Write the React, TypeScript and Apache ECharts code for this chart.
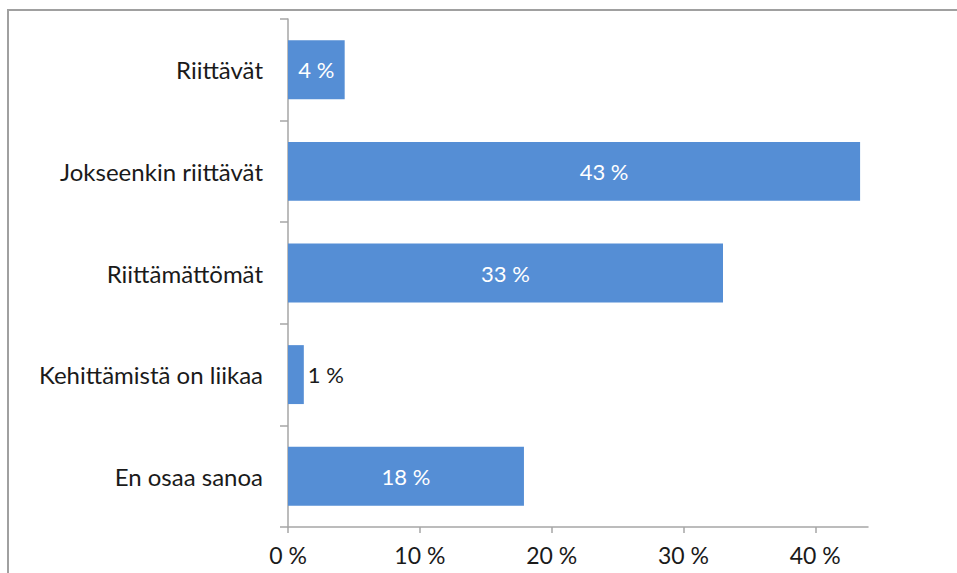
import React, { useEffect, useRef } from "react";
import * as echarts from "echarts";

const categories = [
  "Riittävät",
  "Jokseenkin riittävät",
  "Riittämättömät",
  "Kehittämistä on liikaa",
  "En osaa sanoa",
];
const values = [4.3, 43.4, 33.0, 1.2, 17.9];
const tickValues = [0, 10, 20, 30, 40];

const FONT = "Lato";
const BAR = "#558ED5";
const TEXT = "#1a1a1a";
const AXIS = "#a6a6a6";

export default function App() {
  const ref = useRef<HTMLDivElement>(null);
  useEffect(() => {
    const chart = echarts.init(ref.current!, undefined, { renderer: "svg" });
    const data = values.map((v, i) => ({
      value: v,
      label:
        v < 3
          ? { position: "right" as const, color: TEXT, distance: 4 }
          : {
              position: "inside" as const,
              color: "#ffffff",
              offset: i === 1 ? [30, 0] : [0, 0],
            },
    }));
    chart.setOption({
      animation: false,
      textStyle: { fontFamily: FONT },
      grid: { left: 288, right: 89, top: 19, bottom: 46 },
      xAxis: {
        type: "value",
        min: 0,
        max: 44,
        interval: 10,
        splitLine: { show: false },
        axisLine: { show: true, lineStyle: { color: AXIS, width: 1.5 } },
        axisTick: {
          show: true,
          length: 6,
          customValues: tickValues,
          lineStyle: { color: AXIS, width: 1.5 },
        },
        axisLabel: {
          customValues: tickValues,
          formatter: (v: number) => `${v} %`,
          fontFamily: FONT,
          fontSize: 23,
          color: TEXT,
          margin: 16,
        },
      },
      yAxis: {
        type: "category",
        data: categories,
        inverse: true,
        axisLine: { show: true, lineStyle: { color: AXIS, width: 1.5 } },
        axisTick: { show: true, length: 8, lineStyle: { color: AXIS, width: 1.5 } },
        axisLabel: {
          fontFamily: FONT,
          fontSize: 24,
          color: TEXT,
          margin: 25,
        },
      },
      series: [
        {
          type: "bar",
          data,
          barWidth: "58%",
          itemStyle: { color: BAR },
          label: {
            show: true,
            fontFamily: FONT,
            fontSize: 22,
            formatter: (p: any) => `${Math.round(p.value)} %`,
          },
        },
      ],
      graphic: [
        {
          type: "rect",
          shape: { x: 8, y: 10, width: 1200, height: 1000 },
          style: { fill: "none", stroke: "#a0a0a0", lineWidth: 2 },
          silent: true,
        },
      ],
    });
    return () => chart.dispose();
  }, []);
  return (
    <div
      ref={ref}
      style={{ position: "fixed", left: 0, top: 0, width: 957, height: 573, background: "#fff" }}
    />
  );
}
